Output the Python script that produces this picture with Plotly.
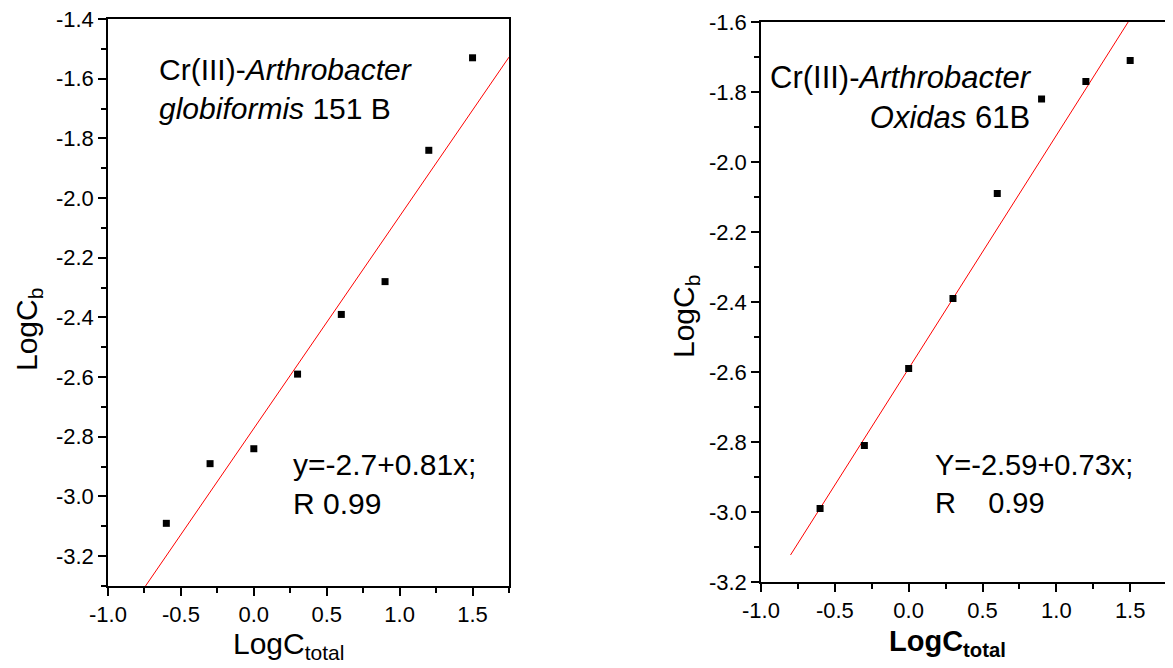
import numpy as np
import plotly.graph_objects as go

# ---- data ----
x_total = [-0.6, -0.3, 0.0, 0.3, 0.6, 0.9, 1.2, 1.5]
logcb_globiformis = [-3.09, -2.89, -2.84, -2.59, -2.39, -2.28, -1.84, -1.53]
logcb_oxidas = [-2.99, -2.81, -2.59, -2.39, -2.09, -1.82, -1.77, -1.71]

# fitted lines (intercept, slope, x extent)
fit_glob = {"a": -2.772, "b": 0.711, "x": [-1.0, 1.75]}
fit_oxi = {"a": -2.59, "b": 0.666, "x": [-0.8, 1.6]}

x_tickvals = [-1.0, -0.5, 0.0, 0.5, 1.0, 1.5]
x_ticktext = ["-1.0", "-0.5", "0.0", "0.5", "1.0", "1.5"]
yl_tickvals = [-1.4, -1.6, -1.8, -2.0, -2.2, -2.4, -2.6, -2.8, -3.0, -3.2]
yl_ticktext = ["-1.4", "-1.6", "-1.8", "-2.0", "-2.2", "-2.4", "-2.6", "-2.8", "-3.0", "-3.2"]
yr_tickvals = [-1.6, -1.8, -2.0, -2.2, -2.4, -2.6, -2.8, -3.0, -3.2]
yr_ticktext = ["-1.6", "-1.8", "-2.0", "-2.2", "-2.4", "-2.6", "-2.8", "-3.0", "-3.2"]

OFF = 8  # page body margin
W, H = 1173 - OFF, 668 - OFF
FONT = "Arial, 'Liberation Sans', sans-serif"

def px(xp):
    return (xp - OFF) / W

def py(yp):
    return 1 - (yp - OFF) / H

fig = go.Figure()

for xa, ya, yv, fit in [("x", "y", logcb_globiformis, fit_glob), ("x2", "y2", logcb_oxidas, fit_oxi)]:
    fx = np.array(fit["x"])
    fig.add_trace(go.Scatter(x=fx, y=fit["a"] + fit["b"] * fx, mode="lines",
                             line=dict(color="#ff0000", width=1), xaxis=xa, yaxis=ya,
                             showlegend=False, hoverinfo="skip"))
    fig.add_trace(go.Scatter(x=x_total, y=yv, mode="markers",
                             marker=dict(symbol="square", size=7, color="black"),
                             xaxis=xa, yaxis=ya, showlegend=False))

axis_common = dict(showgrid=False, zeroline=False, showline=True, linecolor="black", linewidth=1.5,
                   ticks="outside", ticklen=8, tickwidth=1.5, tickcolor="black", automargin=False,
                   ticklabeloverflow="allow",
                   tickfont=dict(family=FONT, size=22, color="black"), tickmode="array")
minor_x = dict(ticks="outside", ticklen=5, tickwidth=1.5, tickcolor="black", dtick=0.25, tick0=0)
minor_y = dict(ticks="outside", ticklen=5, tickwidth=1.5, tickcolor="black", dtick=0.1, tick0=0)

fig.update_layout(
    width=W, height=H, margin=dict(l=0, r=0, t=0, b=0, autoexpand=False),
    paper_bgcolor="white", plot_bgcolor="white",
    font=dict(family=FONT, color="black"),
    xaxis=dict(axis_common, domain=[px(108), px(509)], range=[-1.0, 1.75], mirror=True,
               tickvals=x_tickvals, ticktext=x_ticktext, anchor="y", minor=minor_x),
    yaxis=dict(axis_common, domain=[py(586), py(19)], range=[-3.3, -1.4], mirror=True,
               tickvals=yl_tickvals, ticktext=yl_ticktext, anchor="x", minor=minor_y),
    xaxis2=dict(axis_common, domain=[px(761), 1.0], range=[-1.0, 1.79], mirror=True,
                tickvals=x_tickvals, ticktext=x_ticktext, anchor="y2", minor=minor_x),
    yaxis2=dict(axis_common, domain=[py(582), py(22)], range=[-3.2, -1.6], mirror=False,
                tickvals=yr_tickvals, ticktext=yr_ticktext, anchor="x2", minor=minor_y),
)

ann = [
    dict(text="Cr(III)-<i>Arthrobacter</i><br><i>globiformis</i> 151 B", x=px(157), y=py(89),
         xanchor="left", yanchor="middle", align="left", size=30),
    dict(text="y=-2.7+0.81x;<br>R 0.99", x=px(291), y=py(484),
         xanchor="left", yanchor="middle", align="left", size=30),
    dict(text="Cr(III)-<i>Arthrobacter</i><br><i>Oxidas</i> 61B", x=px(1034), y=py(97),
         xanchor="right", yanchor="middle", align="right", size=31),
    dict(text="Y=-2.59+0.73x;<br>R\u00a0\u00a0\u00a0 0.99", x=px(933), y=py(484),
         xanchor="left", yanchor="middle", align="left", size=29),
    dict(text="LogC<sub>total</sub>", x=px(288), y=py(645), xanchor="center", yanchor="middle",
         align="center", size=30),
    dict(text="<b>LogC<sub>total</sub></b>", x=px(947), y=py(643), xanchor="center", yanchor="middle",
         align="center", size=29),
    dict(text="LogC<sub>b</sub>", x=px(29), y=py(330), xanchor="center", yanchor="middle",
         align="center", size=30, textangle=-90),
    dict(text="LogC<sub>b</sub>", x=px(685), y=py(317), xanchor="center", yanchor="middle",
         align="center", size=30, textangle=-90),
]
for a in ann:
    size = a.pop("size")
    fig.add_annotation(xref="paper", yref="paper", showarrow=False,
                       font=dict(family=FONT, size=size, color="black"), **a)

fig.write_html("out.html")
